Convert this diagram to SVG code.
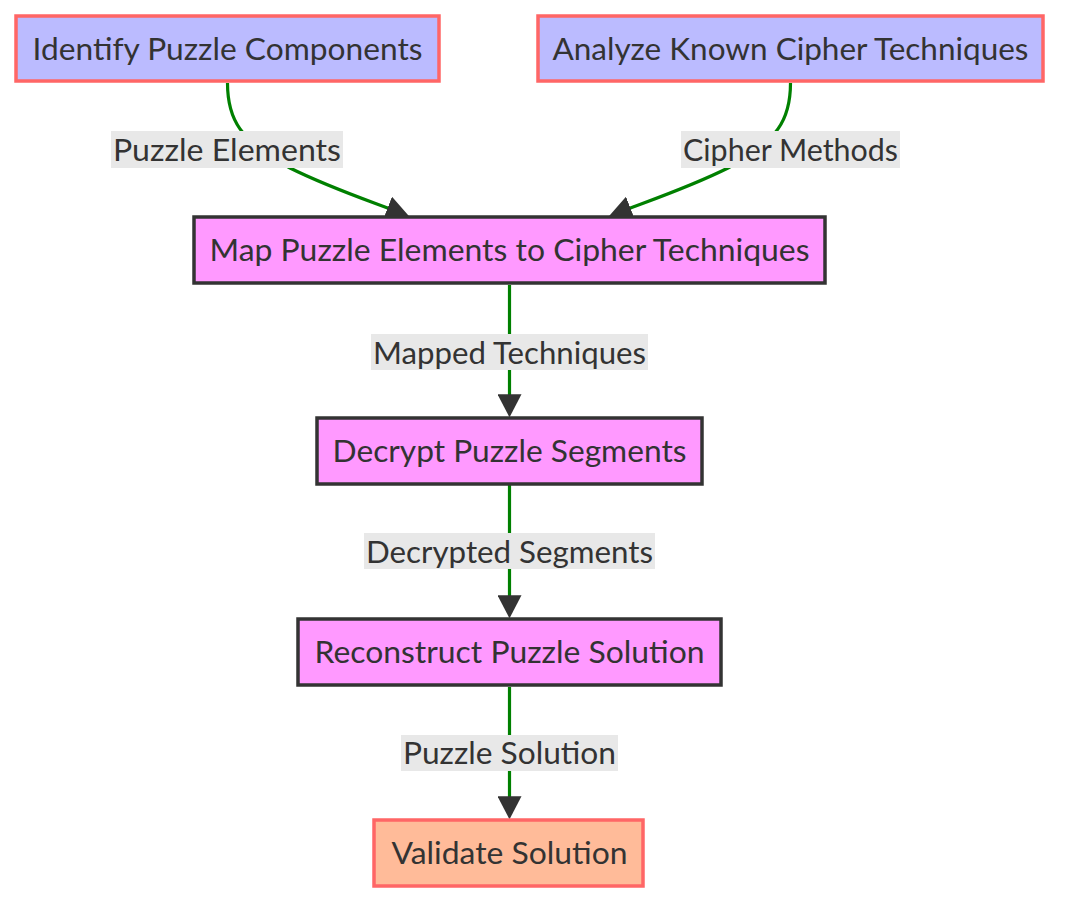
<svg xmlns="http://www.w3.org/2000/svg" width="1076" height="916" viewBox="0 0 1076 916">
<style>
.t{font-family:Lato,"Open Sans","DejaVu Sans",sans-serif;font-size:30px;fill:#333;text-anchor:middle}
.blue{fill:#bbbbff;stroke:#ff6666;stroke-width:3.5}
.pink{fill:#ff99ff;stroke:#333;stroke-width:3.5}
.orange{fill:#ffbb99;stroke:#ff6666;stroke-width:3.5}
.edge{fill:none;stroke:#008000;stroke-width:3.2}
.lbl{fill:#e8e8e8}
</style>
<defs>
<marker id="arrow" viewBox="0 0 10 10" markerUnits="userSpaceOnUse" markerWidth="23" markerHeight="24" refX="8.1" refY="5" orient="auto" preserveAspectRatio="none">
<path d="M0,0 L10,5 L0,10 z" fill="#333"/>
</marker>
</defs>
<g id="connectors">
<path class="edge" d="M227.5,83 C227.5,120 240,140 290,168 C330,188 370,201 405,214.6" marker-end="url(#arrow)"/>
<path class="edge" d="M790.5,83 C790.5,120 778,140 728,168 C688,188 648,201 613,214.6" marker-end="url(#arrow)"/>
<path class="edge" d="M509.5,285 L509.5,413" marker-end="url(#arrow)"/>
<path class="edge" d="M509.5,485 L509.5,614" marker-end="url(#arrow)"/>
<path class="edge" d="M509.5,687 L509.5,815" marker-end="url(#arrow)"/>
</g>
<g id="edge-labels">
<g id="label-puzzle-elements"><rect class="lbl" x="111" y="131" width="232" height="37"/><text class="t" x="227" y="161" textLength="228" lengthAdjust="spacingAndGlyphs">Puzzle Elements</text></g>
<g id="label-cipher-methods"><rect class="lbl" x="681" y="131" width="219" height="37"/><text class="t" x="790.5" y="161" textLength="215" lengthAdjust="spacingAndGlyphs">Cipher Methods</text></g>
<g id="label-mapped-techniques"><rect class="lbl" x="371" y="334" width="277" height="36"/><text class="t" x="509.5" y="363.5" textLength="273" lengthAdjust="spacingAndGlyphs">Mapped Techniques</text></g>
<g id="label-decrypted-segments"><rect class="lbl" x="364" y="533" width="291" height="36"/><text class="t" x="509.5" y="562.5" textLength="287" lengthAdjust="spacingAndGlyphs">Decrypted Segments</text></g>
<g id="label-puzzle-solution"><rect class="lbl" x="401" y="735" width="217" height="36"/><text class="t" x="509.5" y="764" textLength="213" lengthAdjust="spacingAndGlyphs">Puzzle Solution</text></g>
</g>
<g id="identify">
<rect class="blue" x="16" y="16" width="423" height="65"/>
<text class="t" x="227.5" y="59.5" textLength="390" lengthAdjust="spacingAndGlyphs">Identify Puzzle Components</text>
</g>
<g id="analyze">
<rect class="blue" x="538" y="16" width="505" height="65"/>
<text class="t" x="790.5" y="59.5" textLength="476" lengthAdjust="spacingAndGlyphs">Analyze Known Cipher Techniques</text>
</g>
<g id="map">
<rect class="pink" x="194" y="217" width="631" height="66"/>
<text class="t" x="509.5" y="261" textLength="600" lengthAdjust="spacingAndGlyphs">Map Puzzle Elements to Cipher Techniques</text>
</g>
<g id="decrypt">
<rect class="pink" x="317" y="418" width="385" height="66"/>
<text class="t" x="509.5" y="461.5" textLength="354" lengthAdjust="spacingAndGlyphs">Decrypt Puzzle Segments</text>
</g>
<g id="reconstruct">
<rect class="pink" x="298" y="619" width="423" height="66"/>
<text class="t" x="509.5" y="662.5" textLength="390" lengthAdjust="spacingAndGlyphs">Reconstruct Puzzle Solution</text>
</g>
<g id="validate">
<rect class="orange" x="374" y="820" width="269" height="66"/>
<text class="t" x="509.5" y="863.5" textLength="236" lengthAdjust="spacingAndGlyphs">Validate Solution</text>
</g>
</svg>
